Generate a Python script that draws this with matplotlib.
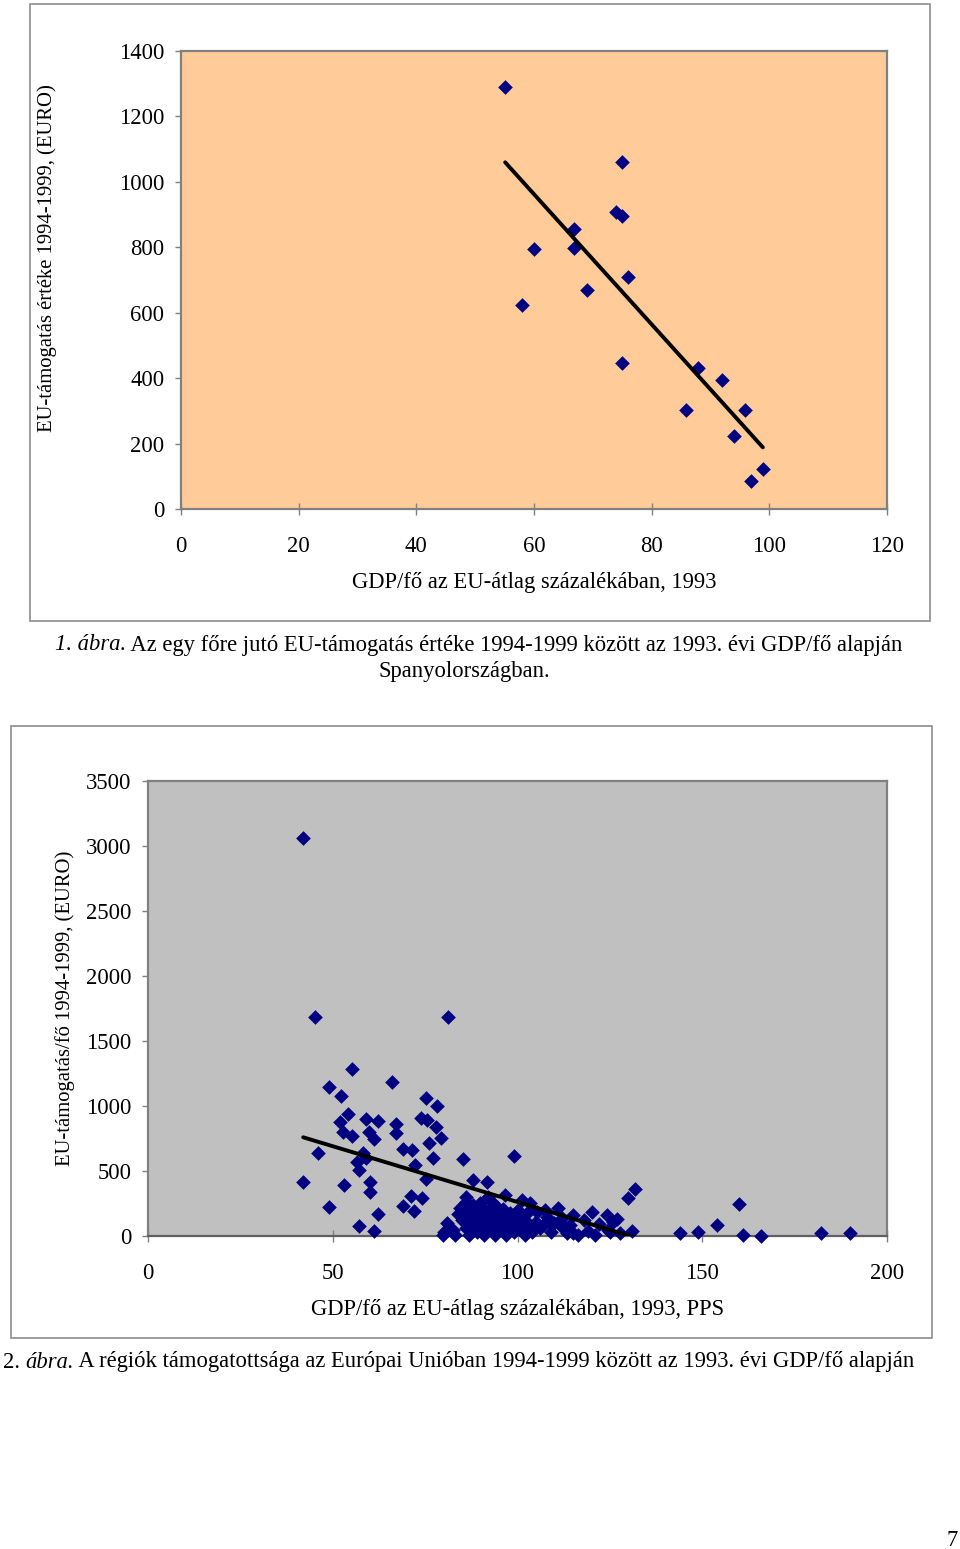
import numpy as np
import matplotlib
matplotlib.use("Agg")
import matplotlib.pyplot as plt
from matplotlib.patches import Rectangle
from matplotlib.text import Annotation

plt.rcParams['font.family'] = ['Liberation Serif', 'DejaVu Serif']

# ---------------- data: chart 1 (Spain) ----------------
gdp1 = [55.1, 75.0, 66.8, 73.9, 75.0, 60.0, 66.8, 76.0, 69.0, 58.0,
        75.0, 87.9, 92.0, 85.8, 95.9, 94.0, 98.9, 96.9]
aid1 = [1290, 1061, 856, 908, 896, 795, 798, 709, 670, 624,
        446, 431, 394, 303, 303, 223, 122, 86]
xticks1 = [0, 20, 40, 60, 80, 100, 120]
yticks1 = [0, 200, 400, 600, 800, 1000, 1200, 1400]

# ---------------- data: chart 2 (EU regions) ----------------
gdp2 = [42.0, 45.2, 81.1, 55.1, 66.1, 49.1, 52.2, 75.2, 78.1, 54.2, 52.0, 59.0, 62.2, 67.1,
        73.9, 75.4, 77.9, 52.9, 55.1, 59.9, 61.2, 67.1, 79.3, 76.0, 69.1, 71.4, 46.1, 58.1,
        56.5, 59.0, 57.1, 77.1, 85.2, 72.3, 75.2, 88.0, 42.0, 53.1, 60.1, 60.1, 71.2, 74.1,
        69.1, 72.1, 49.1, 62.2, 57.1, 61.2, 86.1, 84.4, 99.1, 91.7, 89.9, 94.4, 96.6, 101.1,
        103.4, 79.9, 82.6, 131.8, 130.0, 111.0, 115.1, 120.1, 124.1, 125.9, 105.2, 107.4,
        107.0, 112.4, 115.1, 116.5, 124.6, 127.7, 130.9, 104.3, 108.8, 114.2, 160.0, 154.1,
        144.0, 148.9, 160.9, 165.9, 182.1, 190.0, 113.3, 125.0]
aid2 = [3064, 1682, 1682, 1287, 1185, 1146, 1077, 1059, 1000, 938, 875, 898, 882, 862,
        910, 892, 836, 798, 769, 802, 744, 795, 756, 713, 667, 662, 636, 641,
        572, 598, 508, 598, 590, 546, 438, 431, 418, 392, 418, 341, 308, 290,
        233, 192, 225, 167, 77, 38, 302, 213, 615, 418, 252, 225, 315, 277,
        252, 8, 46, 359, 290, 213, 162, 187, 162, 110, 187, 200,
        85, 59, 21, 5, 46, 21, 41, 59, 98, 85, 244, 85,
        25, 33, 8, 3, 25, 25, 21, 33]
# dense cluster of regions near the EU average
gdp2_cluster = [80, 81, 83, 84, 86, 85, 86, 86, 87, 87, 88, 88, 89, 89, 90, 90, 90, 91, 91,
                92, 92, 93, 93, 93, 94, 94, 95, 95, 96, 96, 97, 97, 98, 98, 99, 99, 100, 100,
                101, 101, 102, 102, 103, 103, 104, 105, 106, 108, 109, 110, 112, 113, 118,
                119, 122, 127, 121, 88, 92]
aid2_cluster = [30, 100, 10, 170, 260, 120, 60, 180, 10, 140, 90, 200, 30, 160, 110, 60, 230,
                5, 150, 80, 190, 40, 120, 260, 10, 170, 90, 140, 50, 210, 120, 5, 80, 180,
                30, 140, 100, 200, 50, 160, 10, 120, 70, 190, 30, 110, 60, 150, 30, 100, 140,
                60, 120, 40, 90, 130, 10, 240, 300]
xticks2 = [0, 50, 100, 150, 200]
yticks2 = [0, 500, 1000, 1500, 2000, 2500, 3000, 3500]

# ---------------- figure ----------------
W, H = 960, 1549
fig = plt.figure(figsize=(W / 100, H / 100), dpi=100)
fig.patch.set_facecolor('white')

def fx(px):
    return px / W

def fy(py):
    return 1 - py / H

FS = 16.3
FSY = 14.9
NAVY = '#000080'
GRID = '#808080'
MS = 56

# outer chart frames
for (x0, y0, x1, y1) in [(30, 4, 930, 621), (11, 726, 932, 1338)]:
    fig.patches.append(Rectangle((fx(x0), fy(y1)), fx(x1) - fx(x0), fy(y0) - fy(y1),
                                 transform=fig.transFigure, fill=False,
                                 edgecolor='#8c8c8c', linewidth=1.2))

def style_axes(ax, face):
    ax.set_facecolor(face)
    for s in ax.spines.values():
        s.set_color(GRID)
        s.set_linewidth(1.6)
    ax.tick_params(axis='y', direction='out', length=4, width=1, color=GRID,
                   labelsize=FS, pad=8)
    ax.tick_params(axis='x', direction='inout', length=9, width=1, color=GRID,
                   labelsize=FS, pad=15)

# ---------------- chart 1 ----------------
ax1 = fig.add_axes([fx(181), fy(509), fx(887) - fx(181), fy(51) - fy(509)])
style_axes(ax1, '#FFCC99')
ax1.set_xlim(0, 120)
ax1.set_ylim(0, 1400)
ax1.set_xticks(xticks1)
ax1.set_yticks(yticks1)
ax1.scatter(gdp1, aid1, marker='D', s=MS, color=NAVY, zorder=3, linewidths=0)
c1 = np.polyfit(gdp1, aid1, 1)
xl1 = np.array([min(gdp1), max(gdp1)])
ax1.plot(xl1, np.polyval(c1, xl1), color='black', linewidth=2.8, zorder=4,
         solid_capstyle='round')

fig.text(fx(534), fy(583), 'GDP/fő az EU-átlag százalékában, 1993', ha='center',
         va='center', fontsize=FS)
fig.text(fx(47), fy(258), 'EU-támogatás értéke 1994-1999, (EURO)', ha='center',
         va='center', rotation=90, fontsize=FSY)

# caption 1
t1 = fig.text(fx(55), fy(645), '1. ábra.', ha='left', va='center', fontsize=FS,
              style='italic')
fig.add_artist(Annotation(
    ' Az egy főre jutó EU-támogatás értéke 1994-1999 között az 1993. évi GDP/fő alapján',
    xy=(1, 0.5), xycoords=t1, ha='left', va='center', fontsize=FS))
fig.text(fx(464), fy(672), 'Spanyolországban.', ha='center', va='center', fontsize=FS)

# ---------------- chart 2 ----------------
ax2 = fig.add_axes([fx(148), fy(1236), fx(887) - fx(148), fy(781) - fy(1236)])
style_axes(ax2, '#C0C0C0')
ax2.set_xlim(0, 200)
ax2.set_ylim(0, 3500)
ax2.set_xticks(xticks2)
ax2.set_yticks(yticks2)
ax2.spines['bottom'].set_color('#606060')
gx = gdp2 + gdp2_cluster
gy = aid2 + aid2_cluster
ax2.scatter(gx, gy, marker='D', s=MS, color=NAVY, zorder=3, linewidths=0, clip_on=False)
c2 = np.polyfit(gx, gy, 1)
xl2 = np.linspace(min(gx), max(gx), 200)
ax2.plot(xl2, np.polyval(c2, xl2), color='black', linewidth=2.8, zorder=4,
         solid_capstyle='round')

fig.text(fx(518), fy(1310), 'GDP/fő az EU-átlag százalékában, 1993, PPS', ha='center',
         va='center', fontsize=FS)
fig.text(fx(65), fy(1008), 'EU-támogatás/fő 1994-1999, (EURO)', ha='center',
         va='center', rotation=90, fontsize=FSY)

# caption 2
t2a = fig.text(fx(3), fy(1362), '2. ', ha='left', va='center', fontsize=FS)
t2b = fig.add_artist(Annotation('ábra.', xy=(1, 0.5), xycoords=t2a,
                                ha='left', va='center', fontsize=FS, style='italic'))
fig.add_artist(Annotation(
    ' A régiók támogatottsága az Európai Unióban 1994-1999 között az 1993. évi GDP/fő alapján',
    xy=(1, 0.5), xycoords=t2b, ha='left', va='center', fontsize=FS))

# page number
fig.text(fx(952), fy(1541), '7', ha='center', va='center', fontsize=FS)

fig.savefig('out.png', dpi=100)
